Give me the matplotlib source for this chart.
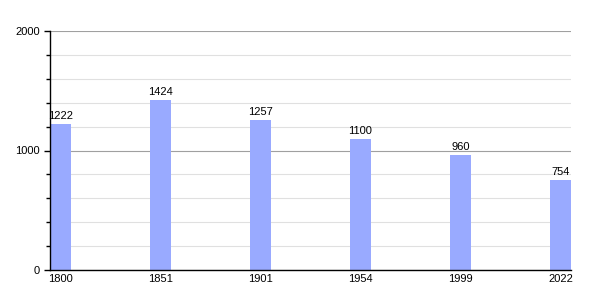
import matplotlib
matplotlib.use("Agg")
import matplotlib.pyplot as plt
from matplotlib.ticker import MultipleLocator

years = ["1800", "1851", "1901", "1954", "1999", "2022"]
population = [1222, 1424, 1257, 1100, 960, 754]

plt.rcParams['font.family'] = ['Liberation Sans', 'DejaVu Sans']

fig = plt.figure(figsize=(6, 3), dpi=100)
ax = fig.add_axes([50/600, 30/300, 521/600, 239/300])

w = 0.21
x = list(range(len(years)))
bars = ax.bar(x, population, width=w, color="#99aaff", zorder=2)
for xi, v in zip(x, population):
    ax.text(xi, v + 25, str(v), ha="center", va="bottom", fontsize=8, color="black")

ax.set_xlim(-w/2, len(years) - 1 + w/2)
ax.set_ylim(0, 2000)
ax.set_xticks(x)
ax.set_xticklabels(years, fontsize=8)
ax.tick_params(axis="x", length=0, pad=3)
ax.yaxis.set_major_locator(MultipleLocator(1000))
ax.yaxis.set_minor_locator(MultipleLocator(200))
ax.tick_params(axis="y", which="major", length=4, labelsize=8, width=1)
ax.tick_params(axis="y", which="minor", length=3, width=1)
ax.grid(axis="y", which="minor", color="#e0e0e0", linewidth=0.8, zorder=0)
ax.grid(axis="y", which="major", color="#a0a0a0", linewidth=0.8, zorder=0)
for s in ["top", "right"]:
    ax.spines[s].set_visible(False)
ax.spines["left"].set_linewidth(1)
ax.spines["bottom"].set_linewidth(1)
ax.set_axisbelow(True)

fig.savefig("out.png", dpi=100)
